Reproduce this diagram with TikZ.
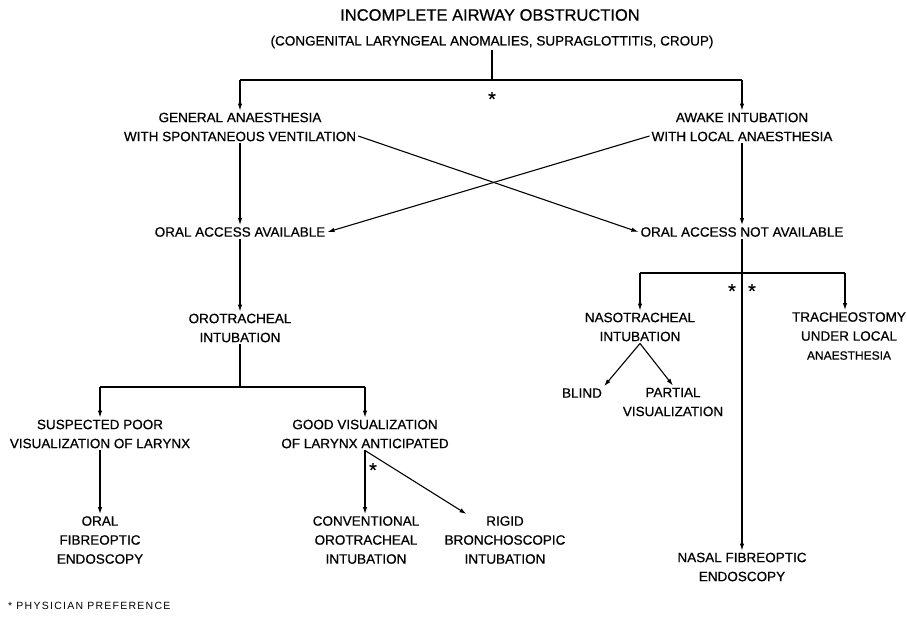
\documentclass[tikz,border=0pt]{standalone}
\usepackage{fontspec}
\setmainfont{Liberation Sans}[FakeBold=0.6]
\newfontfamily\notefont{Liberation Sans}[LetterSpace=12]
\usetikzlibrary{arrows.meta}

\begin{document}
\begin{tikzpicture}[
    x=1pt, y=-1pt,
    every node/.style={align=center, inner sep=2pt, font=\fontsize{13.5}{19}\selectfont},
    titlestyle/.style={font=\fontsize{16.5}{20}\selectfont},
    star/.style={inner sep=0pt, font=\fontsize{20}{20}\selectfont},
    notestyle/.style={anchor=west, inner sep=0pt, font=\notefont\fontsize{10.5}{12}\selectfont},
    arr/.style={-{Latex[length=7pt,width=4.5pt]}, line width=1.1pt},
    ln/.style={line width=1.1pt},
    bar/.style={line width=2pt}
]
\useasboundingbox (0,0) rectangle (907,616);

% Top nodes
\node[titlestyle] (title) at (490,15) {INCOMPLETE AIRWAY OBSTRUCTION};
\node (cause) at (492,42) {(CONGENITAL LARYNGEAL ANOMALIES, SUPRAGLOTTITIS, CROUP)};
\coordinate (topfork) at (492,80);

\node (general) at (240,127) {GENERAL ANAESTHESIA\\WITH SPONTANEOUS VENTILATION};
\node (awake) at (742,127) {AWAKE INTUBATION\\WITH LOCAL ANAESTHESIA};

\node (oralyes) at (240,232) {ORAL ACCESS AVAILABLE};
\node (oralno) at (742,232) {ORAL ACCESS NOT AVAILABLE};

% Left section nodes
\node (orotracheal) at (240,328) {OROTRACHEAL\\INTUBATION};
\coordinate (leftfork) at (240,387);
\node (suspected) at (100,434) {SUSPECTED POOR\\VISUALIZATION OF LARYNX};
\node (goodvis) at (365,434) {GOOD VISUALIZATION\\OF LARYNX ANTICIPATED};
\node (oralfibre) at (100,540) {ORAL\\FIBREOPTIC\\ENDOSCOPY};
\node (conventional) at (366,540) {CONVENTIONAL\\OROTRACHEAL\\INTUBATION};
\node (rigid) at (505,540) {RIGID\\BRONCHOSCOPIC\\INTUBATION};

% Right section nodes
\coordinate (rightfork) at (742,273);
\coordinate (trachfork) at (845,273);
\node (nasotracheal) at (640,327) {NASOTRACHEAL\\INTUBATION};
\node (tracheostomy) at (849,336) {TRACHEOSTOMY\\UNDER LOCAL\\{\fontsize{12}{19}\selectfont ANAESTHESIA}};
\node (blind) at (582,393) {BLIND};
\node (partial) at (673,402) {PARTIAL\\VISUALIZATION};
\node (nasalfibre) at (742,567) {NASAL FIBREOPTIC\\ENDOSCOPY};

% Physician preference marks
\node[star] (starA) at (492,99) {*};
\node[star] (starB) at (732,291) {*};
\node[star] (starC) at (752,291) {*};
\node[star] (starD) at (373,470) {*};
\node[notestyle] (note) at (8,606) {* PHYSICIAN PREFERENCE};

% Top edges
\draw[ln] (cause) -- (topfork);
\draw[bar] (general.north |- topfork) -- (awake.north |- topfork);
\draw[arr] (general.north |- topfork) -- (general);
\draw[arr] (awake.north |- topfork) -- (awake);

% Crossing edges
\draw[arr] ([yshift=-9pt]general.east) -- (oralno.west);
\draw[arr] ([yshift=-9pt]awake.west) -- (oralyes.east);
\draw[arr] (general) -- (oralyes);
\draw[arr] (awake) -- (oralno);

% Left section edges
\draw[arr] (oralyes) -- (orotracheal);
\draw[ln] (orotracheal) -- (leftfork);
\draw[bar] (suspected.north |- leftfork) -- (goodvis.north |- leftfork);
\draw[arr] (suspected.north |- leftfork) -- (suspected);
\draw[arr] (goodvis.north |- leftfork) -- (goodvis);
\draw[arr] (suspected) -- (oralfibre);
\draw[arr] (goodvis.south) -- (goodvis.south |- conventional.north);
\draw[arr] (goodvis.south) -- ([xshift=24pt]rigid.north west);

% Right section edges
\draw[arr] (oralno) -- (nasalfibre);
\draw[bar] (nasotracheal.north |- rightfork) -- (trachfork);
\draw[arr] (nasotracheal.north |- rightfork) -- (nasotracheal);
\draw[arr] (trachfork) -- (trachfork |- tracheostomy.north);
\draw[arr] (nasotracheal.south) -- (blind.north east);
\draw[arr] (nasotracheal.south) -- (partial.north);
\end{tikzpicture}
\end{document}
